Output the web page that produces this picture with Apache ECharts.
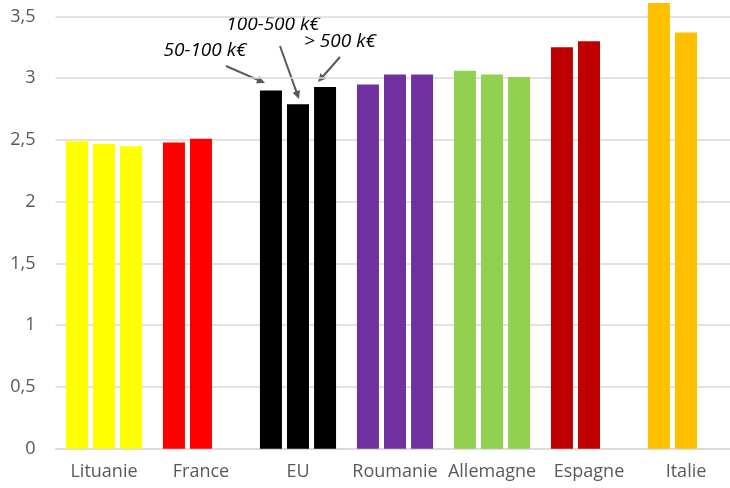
<!DOCTYPE html>
<html>
<head>
<meta charset="utf-8">
<script src="https://cdn.jsdelivr.net/npm/echarts@6/dist/echarts.min.js"></script>
<style>
  html, body { margin: 0; padding: 0; background: #fff; }
  #chart { width: 730px; height: 488px; }
</style>
</head>
<body>
<div id="chart"></div>
<script>
const categories = ['Lituanie', 'France', 'EU', 'Roumanie', 'Allemagne', 'Espagne', 'Italie'];
const groupColors = ['#FFFF00', '#FF0000', '#000000', '#7030A0', '#92D050', '#C00000', '#FFC000'];
// tranches de chiffre d'affaires
const seriesNames = ['50-100 k€', '100-500 k€', '> 500 k€'];
const val50_100 = [2.49, 2.48, 2.90, 2.95, 3.06, 3.25, 3.61];
const val100_500 = [2.47, 2.51, 2.79, 3.03, 3.03, 3.30, 3.37];
const valOver500 = [2.45, null, 2.93, 3.03, 3.01, null, null];
const yTicks = { min: 0, max: 3.5, interval: 0.5 };

const chart = echarts.init(document.getElementById('chart'));

const makeSeries = (name, data) => ({
  name: name,
  type: 'bar',
  data: data,
  barWidth: 22,
  barGap: '23%',
  clip: false,
  animation: false,
  itemStyle: { color: p => groupColors[p.dataIndex] }
});

// flèches + étiquettes des tranches (annotation sur le groupe EU)
const arrowStyle = { stroke: '#595959', lineWidth: 2 };
const arrow = (x1, y1, x2, y2) => {
  const a = Math.atan2(y2 - y1, x2 - x1);
  const len = 9, w = 0.45;
  return [
    { type: 'line', shape: { x1, y1, x2: x2 - Math.cos(a) * 6, y2: y2 - Math.sin(a) * 6 }, style: arrowStyle, silent: true },
    {
      type: 'polygon', silent: true,
      shape: { points: [
        [x2, y2],
        [x2 - len * Math.cos(a - w), y2 - len * Math.sin(a - w)],
        [x2 - len * Math.cos(a + w), y2 - len * Math.sin(a + w)]
      ] },
      style: { fill: '#595959' }
    }
  ];
};
const label = (text, x, y) => ({
  type: 'text', x, y, silent: true,
  style: {
    text, fill: '#000', font: 'italic 19px "Open Sans"',
    align: 'center', verticalAlign: 'middle'
  }
});

chart.setOption({
  backgroundColor: '#fff',
  textStyle: { fontFamily: 'Open Sans' },
  grid: { left: 55.5, width: 679, top: 16.5, bottom: 39.3, outerBoundsMode: 'none' },
  xAxis: {
    type: 'category',
    data: categories,
    axisLine: { lineStyle: { color: '#d9d9d9', width: 1.5 } },
    axisTick: { show: false },
    axisLabel: { color: '#595959', fontSize: 18, margin: 14, interval: 0 }
  },
  yAxis: {
    type: 'value',
    min: yTicks.min,
    max: yTicks.max,
    interval: yTicks.interval,
    axisLine: { show: false },
    axisTick: { show: false },
    splitLine: { lineStyle: { color: '#d9d9d9', width: 1.5 } },
    axisLabel: {
      color: '#595959', fontSize: 18, margin: 20,
      formatter: v => String(v).replace('.', ',')
    }
  },
  series: [
    makeSeries(seriesNames[0], val50_100),
    makeSeries(seriesNames[1], val100_500),
    makeSeries(seriesNames[2], valOver500)
  ],
  graphic: [
    label(seriesNames[0], 205, 51),
    label(seriesNames[1], 273, 25),
    label(seriesNames[2], 340, 42),
    ...arrow(226, 66, 265, 83),
    ...arrow(280, 46, 299, 99),
    ...arrow(340, 57, 318, 82)
  ]
});
</script>
</body>
</html>
